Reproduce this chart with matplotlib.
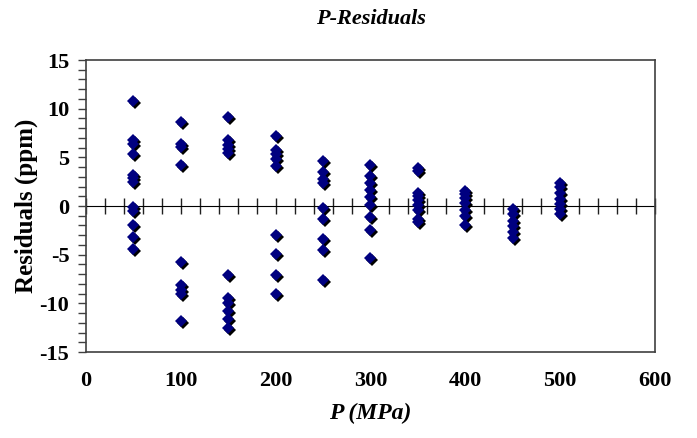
import numpy as np
import matplotlib
matplotlib.use("Agg")
import matplotlib.pyplot as plt
import matplotlib.transforms as mtransforms
from matplotlib.ticker import MultipleLocator, NullFormatter

# Residual data per pressure group (MPa -> ppm)
pressures = [50, 100, 150, 200, 250, 300, 350, 400, 450, 500]
residuals = {
    50:  [10.8, 6.8, 6.4, 5.3, 3.2, 2.9, 2.5, -0.1, -0.5, -2.0, -3.2, -4.4],
    100: [8.6, 6.4, 6.1, 4.2, -5.8, -8.1, -8.6, -9.0, -11.8],
    150: [9.1, 6.8, 6.3, 5.9, 5.4, -7.1, -9.4, -10.0, -10.8, -11.6, -12.5],
    200: [7.2, 5.8, 5.3, 4.8, 4.1, -3.0, -4.9, -7.1, -9.0],
    250: [4.6, 3.5, 2.8, 2.4, -0.2, -1.3, -3.4, -4.5, -7.6],
    300: [4.2, 3.1, 2.4, 1.6, 0.9, 0.1, -1.1, -2.5, -5.3],
    350: [3.9, 3.6, 1.3, 1.0, 0.6, 0.1, -0.4, -1.3, -1.6],
    400: [1.5, 1.2, 0.8, 0.3, -0.4, -1.0, -1.9],
    450: [-0.3, -0.8, -1.5, -2.1, -2.7, -3.3],
    500: [2.4, 2.0, 1.3, 0.7, 0.2, -0.3, -0.8],
}
x_ticks = [0, 100, 200, 300, 400, 500, 600]
y_ticks = [-15, -10, -5, 0, 5, 10, 15]

xs = np.concatenate([[p] * len(residuals[p]) for p in pressures])
ys = np.concatenate([residuals[p] for p in pressures])

plt.rcParams['font.family'] = ['Liberation Serif', 'DejaVu Serif']
plt.rcParams['axes.unicode_minus'] = False

fig = plt.figure(figsize=(6.97, 4.38), dpi=100)
ax = fig.add_axes([0.1234, 0.1963, 0.8163, 0.6667])

shadow = mtransforms.offset_copy(ax.transData, fig=fig, x=2, y=-2, units='dots')
ax.plot(xs, ys, linestyle='none', marker='D', markersize=6.5,
        color='black', markeredgewidth=0, transform=shadow, zorder=3)
ax.plot(xs, ys, linestyle='none', marker='D', markersize=6.5,
        color='#000080', markeredgewidth=0, zorder=4)

ax.set_xlim(0, 600)
ax.set_ylim(-15, 15)
ax.set_xticks(x_ticks)
ax.set_yticks(y_ticks)
ax.yaxis.set_minor_locator(MultipleLocator(1))
ax.tick_params(axis='x', length=0, pad=14, labelsize=16)
ax.tick_params(axis='y', which='both', direction='out', length=6, width=1,
               color='#404040', labelsize=16, pad=6)
for lab in ax.get_xticklabels() + ax.get_yticklabels():
    lab.set_fontweight('bold')

for s in ax.spines.values():
    s.set_color('#404040')
    s.set_linewidth(1.2)

# zero line with crossing ticks every 20 MPa
sec = ax.secondary_xaxis(0.5)
sec.set_xticks(np.arange(0, 601, 20))
sec.xaxis.set_major_formatter(NullFormatter())
sec.tick_params(direction='inout', length=11, width=1, color='#202020',
                labelbottom=False, labeltop=False)
sec.spines['bottom'].set_color('#202020')
sec.spines['bottom'].set_linewidth(1.2)

ax.set_xlabel('P (MPa)', fontsize=17, fontweight='bold', style='italic', labelpad=8)
ax.set_ylabel('Residuals (ppm)', fontsize=18, fontweight='bold', labelpad=1)
ax.set_title('P-Residuals', fontsize=16, fontweight='bold', style='italic', pad=26)

fig.savefig('out.png', dpi=100)
